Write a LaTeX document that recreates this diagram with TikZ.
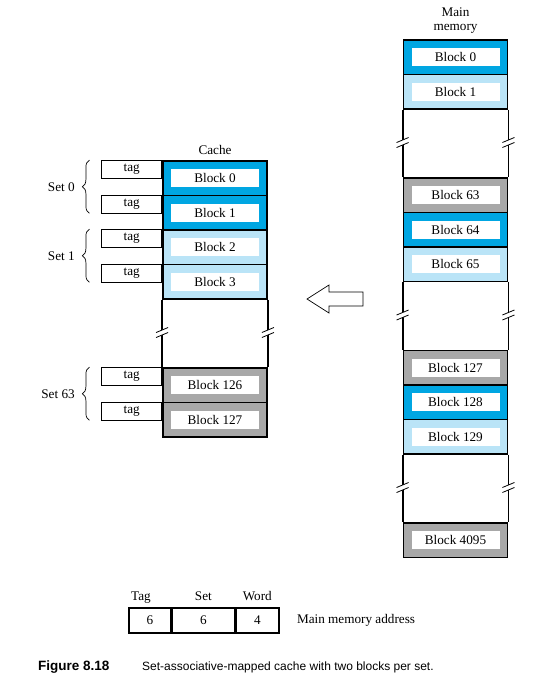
\documentclass[tikz,border=0pt]{standalone}
\usepackage{fontspec}
\setmainfont{Liberation Serif}
\newfontfamily\capfont{Liberation Sans}
\usetikzlibrary{positioning, calc, decorations.pathreplacing}
\definecolor{dkblue}{RGB}{0,166,226}
\definecolor{ltblue}{RGB}{186,228,247}
\definecolor{midgray}{RGB}{168,168,168}
% break mark on a column side
\newcommand\gapbrk[1]{%
  \fill[white] ($(#1)+(-6,-1)$) -- ($(#1)+(6,-6)$) -- ($(#1)+(6,-1)$) -- ($(#1)+(-6,4)$) -- cycle;
  \draw[line width=0.8pt] ($(#1)+(-6,-1)$) -- ($(#1)+(6,-6)$) ($(#1)+(-6,4)$) -- ($(#1)+(6,-1)$);}

\begin{document}
\begin{tikzpicture}[x=1pt, y=-1pt,
    font=\fontsize{13.2}{14}\selectfont,
    blk/.style={rectangle, draw, line width=1.8pt, minimum width=104pt, minimum height=34.5pt, inner sep=0pt},
    lbl/.style={rectangle, fill=white, minimum width=88pt, minimum height=18pt, inner sep=0pt},
    tagbox/.style={rectangle, draw, line width=0.7pt, minimum width=60pt, minimum height=18pt, inner sep=0pt, anchor=north east},
    side/.style={line width=1.8pt},
    fld/.style={rectangle, draw, line width=1.4pt, minimum height=25pt, inner sep=0pt},
    fldlbl/.style={text height=1.6ex, text depth=0.4ex},
    setbrace/.style={decorate, decoration={brace, amplitude=7pt}, line width=0.7pt}
  ]
  \useasboundingbox (0,0) rectangle (551,681);

  % cache
  \foreach \n/\y/\c in {0/178.25/dkblue, 1/212.75/dkblue, 2/247.25/ltblue, 3/281.75/ltblue,
                         126/385.25/midgray, 127/419.75/midgray} {
    \node[blk, fill=\c] (c\n) at (215,\y) {};
    \node[lbl] at (c\n) {Block \n};
    \node[tagbox] (t\n) at (c\n.north west) {tag};
  }
  \node[above=2pt of c0] (cachelbl) {Cache};

  % main memory
  \foreach \n/\y/\c in {0/57.25/dkblue, 1/91.75/ltblue, 63/195.25/midgray, 64/229.75/dkblue,
                         65/264.25/ltblue, 127/367.75/midgray, 128/402.25/dkblue,
                         129/436.75/ltblue, 4095/540.25/midgray} {
    \node[blk, fill=\c] (m\n) at (455.5,\y) {};
    \node[lbl] at (m\n) {Block \n};
  }
  \node[above=2pt of m0, align=center] (memlbl) {Main\\memory};

  % gaps with breaks
  \foreach \a/\b in {c3/c126, m1/m63, m65/m127, m129/m4095} {
    \draw[side] (\a.south west) -- (\b.north west);
    \draw[side] (\a.south east) -- (\b.north east);
    \coordinate (bw) at ($(\a.south west)!0.5!(\b.north west)$);
    \coordinate (be) at ($(\a.south east)!0.5!(\b.north east)$);
    \gapbrk{bw}
    \gapbrk{be}
  }

  % sets
  \foreach \s/\p/\q in {0/0/1, 1/2/3, 63/126/127} {
    \draw[setbrace] ($(t\q.south west)+(-12,0)$) -- ($(t\p.north west)+(-12,0)$)
      node[midway, left=11pt] {Set \s};
  }

  % arrow
  \draw[line width=0.7pt, fill=white] (307,299) -- (329,285) -- (329,292) -- (363,292)
    -- (363,306) -- (329,306) -- (329,313) -- cycle;

  % address format
  \node[fld, minimum width=42pt] (a1) at (150,620.5) {6};
  \node[fld, minimum width=62pt, right=0pt of a1] (a2) {6};
  \node[fld, minimum width=43pt, right=0pt of a2] (a3) {4};
  \node[fldlbl, above=1pt of a1, xshift=-9pt] {Tag};
  \node[fldlbl, above=1pt of a2] {Set};
  \node[fldlbl, above=1pt of a3] {Word};
  \node[right=14pt of a3] (addrlbl) {Main memory address};

  % caption
  \node[anchor=base west, inner sep=0pt, font=\capfont\bfseries\fontsize{13.5}{15}\selectfont] (fignum) at (38,670) {Figure 8.18};
  \node[anchor=base west, inner sep=0pt, font=\capfont\fontsize{12}{14}\selectfont] (figtxt) at (142,670) {Set-associative-mapped cache with two blocks per set.};
\end{tikzpicture}
\end{document}
